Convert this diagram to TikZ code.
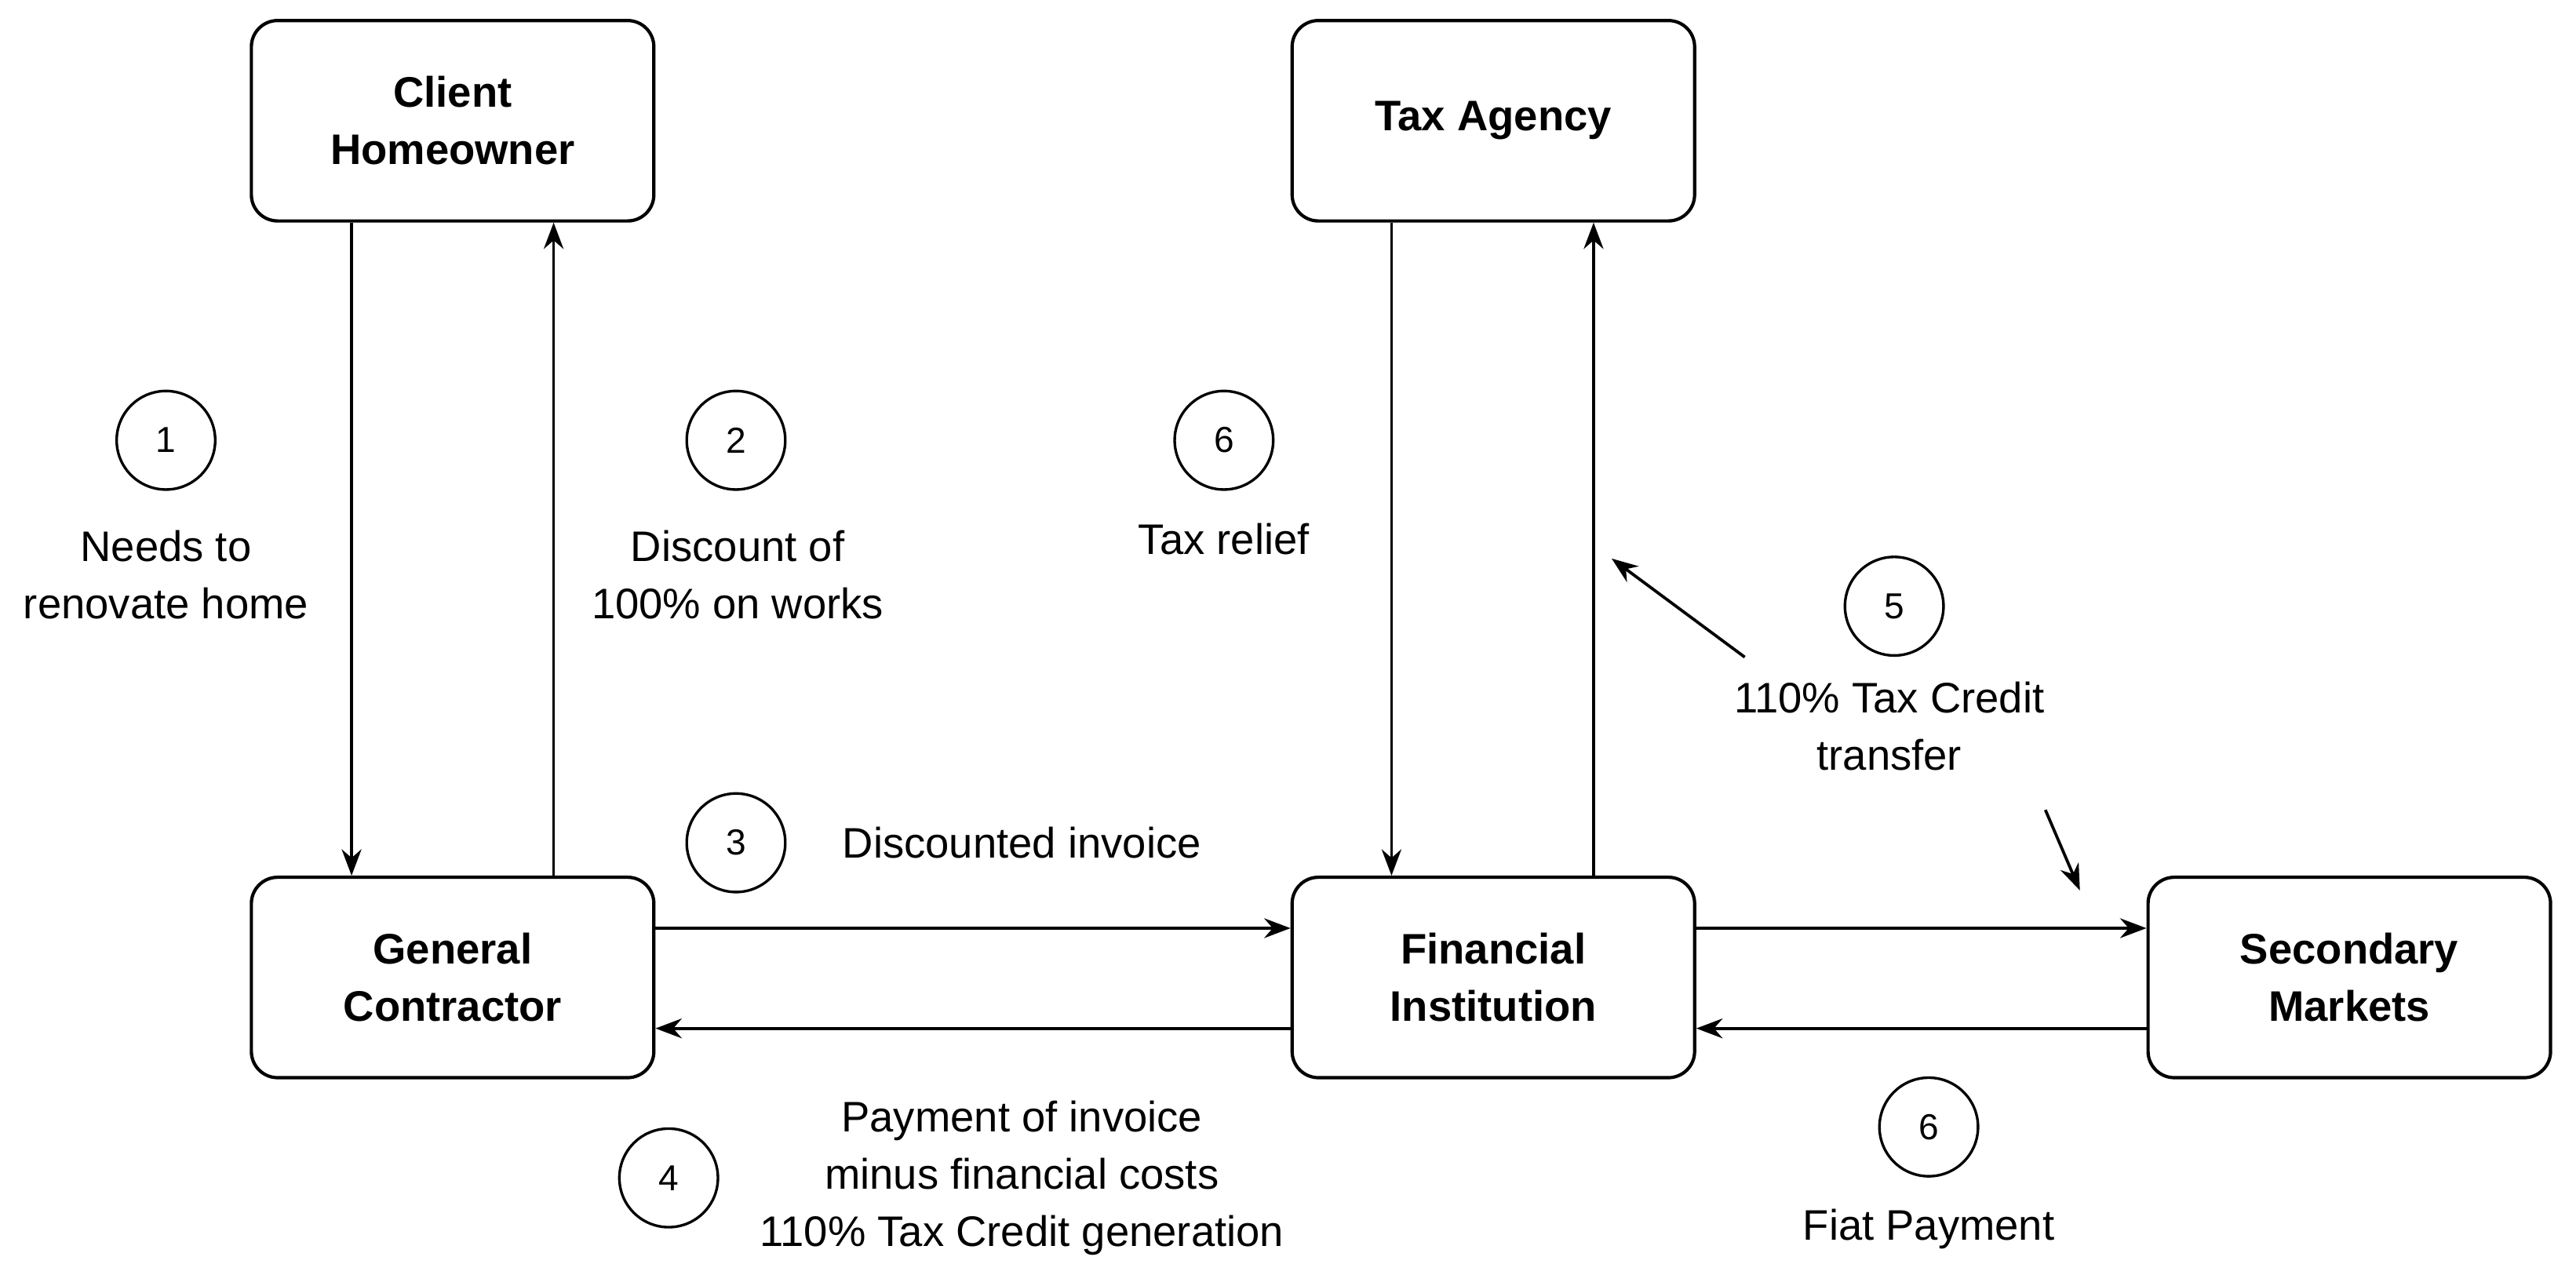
\documentclass[tikz,border=0pt]{standalone}
\usepackage{fontspec}
\setmainfont{Liberation Sans}
\usetikzlibrary{arrows.meta}
\begin{document}
\begin{tikzpicture}[x=0.5pt,y=-0.5pt,
 box/.style={draw,line width=1pt,rounded corners=8pt,minimum width=122.5pt,minimum height=61pt,align=center,font=\fontsize{13}{17.5}\selectfont\bfseries},
 num/.style={draw,circle,line width=0.8pt,minimum size=30pt,inner sep=0pt,font=\fontsize{11}{13}\selectfont},
 lab/.style={align=center,font=\fontsize{13}{17.5}\selectfont},
 arr/.style={-{Stealth[length=8pt,width=6pt]},line width=0.9pt}]
\useasboundingbox (0,0) rectangle (1568,776);
\node[box] (ch) at (275.5,73.5) {Client\\Homeowner};
\node[box] (ta) at (909,73.5) {Tax Agency};
\node[box] (gc) at (275.5,595) {General\\Contractor};
\node[box] (fi) at (909,595) {Financial\\Institution};
\node[box] (sm) at (1430,595) {Secondary\\Markets};
\draw[arr] (ch.south -| 214,0) -- (gc.north -| 214,0);
\draw[arr] (gc.north -| 337,0) -- (ch.south -| 337,0);
\draw[arr] (ta.south -| 847,0) -- (fi.north -| 847,0);
\draw[arr] (fi.north -| 970,0) -- (ta.south -| 970,0);
\draw[arr] (gc.east |- 0,565) -- (fi.west |- 0,565);
\draw[arr] (fi.west |- 0,626) -- (gc.east |- 0,626);
\draw[arr] (fi.east |- 0,565) -- (sm.west |- 0,565);
\draw[arr] (sm.west |- 0,626) -- (fi.east |- 0,626);
\coordinate (a1) at (1062,400); \coordinate (a2) at (981,340);
\coordinate (b1) at (1245,493); \coordinate (b2) at (1266,542);
\draw[arr] (a1) -- (a2);
\draw[arr] (b1) -- (b2);
\node[num] (n1) at (101,268) {1};
\node[num] (n2) at (448,268) {2};
\node[num] (n6a) at (745,268) {6};
\node[num] (n5) at (1153,369) {5};
\node[num] (n3) at (448,513) {3};
\node[num] (n4) at (407,717) {4};
\node[num] (n6b) at (1174,686) {6};
\node[lab] (t1) at (101,350) {Needs to\\renovate home};
\node[lab] (t2) at (449,350) {Discount of\\100\% on works};
\node[lab] (t6a) at (745,328) {Tax relief};
\node[lab] (t5) at (1150,442) {110\% Tax Credit\\transfer};
\node[lab] (t3) at (622,513) {Discounted invoice};
\node[lab] (t4) at (622,717) {Payment of invoice\\minus financial costs\\110\% Tax Credit generation};
\node[lab] (t6b) at (1174,748) {Fiat Payment};
\end{tikzpicture}
\end{document}
